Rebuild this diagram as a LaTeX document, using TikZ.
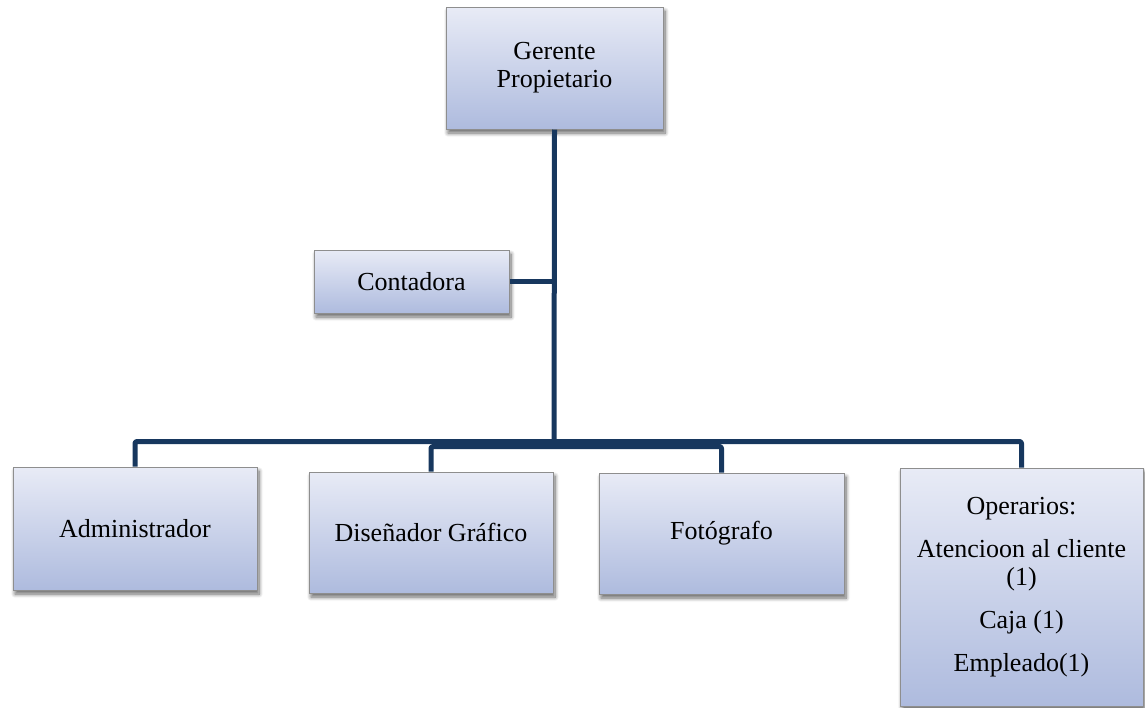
\documentclass[tikz,border=0pt]{standalone}
\usepackage{fontspec}
\setmainfont{Liberation Serif}
\usetikzlibrary{shadows.blur}
\definecolor{boxtop}{HTML}{E8EBF6}
\definecolor{boxbot}{HTML}{AEBBDE}
\definecolor{boxedge}{HTML}{8E8E8E}
\definecolor{linknavy}{HTML}{17375E}
\begin{document}
\begin{tikzpicture}[x=1pt,y=-1pt,
  orgbox/.style={draw=boxedge, line width=1pt, top color=boxtop, bottom color=boxbot,
    inner sep=0pt, align=center, font=\fontsize{26}{28}\selectfont,
    blur shadow={shadow xshift=2pt, shadow yshift=-4pt, shadow blur radius=4pt,
      shadow blur steps=8, shadow opacity=60}},
  link/.style={draw=linknavy, line width=5pt, line join=round, rounded corners=2pt}]
\useasboundingbox (0,0) rectangle (1145,707);
% boxes
\node[orgbox, minimum width=217pt, minimum height=122pt] (ger) at (554.5,68) {Gerente\\Propietario};
\node[orgbox, minimum width=195pt, minimum height=63pt] (cont) at (411.5,281.5) {Contadora};
\node[orgbox, minimum width=244pt, minimum height=123pt] (adm) at (135,528.5) {Administrador};
\node[orgbox, minimum width=244pt, minimum height=121pt] (dis) at (431,532.5) {Diseñador Gráfico};
\node[orgbox, minimum width=245pt, minimum height=121pt] (fot) at (721.5,533.5) {Fotógrafo};
\node[orgbox, minimum width=243pt, minimum height=238pt] (ope) at (1021.5,587)
  {Operarios:\\[15pt]Atencioon al cliente\\(1)\\[15pt]Caja (1)\\[15pt]Empleado(1)};
% connectors
\coordinate (busA) at (554,441.5);
\coordinate (busB) at (554,446.5);
\draw[link] (ger.south) -- (busB);
\draw[link] (cont.east) -- (cont.east -| ger.south);
\draw[link] (adm.north) |- (busA) -| (ope.north);
\draw[link] (dis.north) |- (busB) -| (fot.north);
\end{tikzpicture}
\end{document}
